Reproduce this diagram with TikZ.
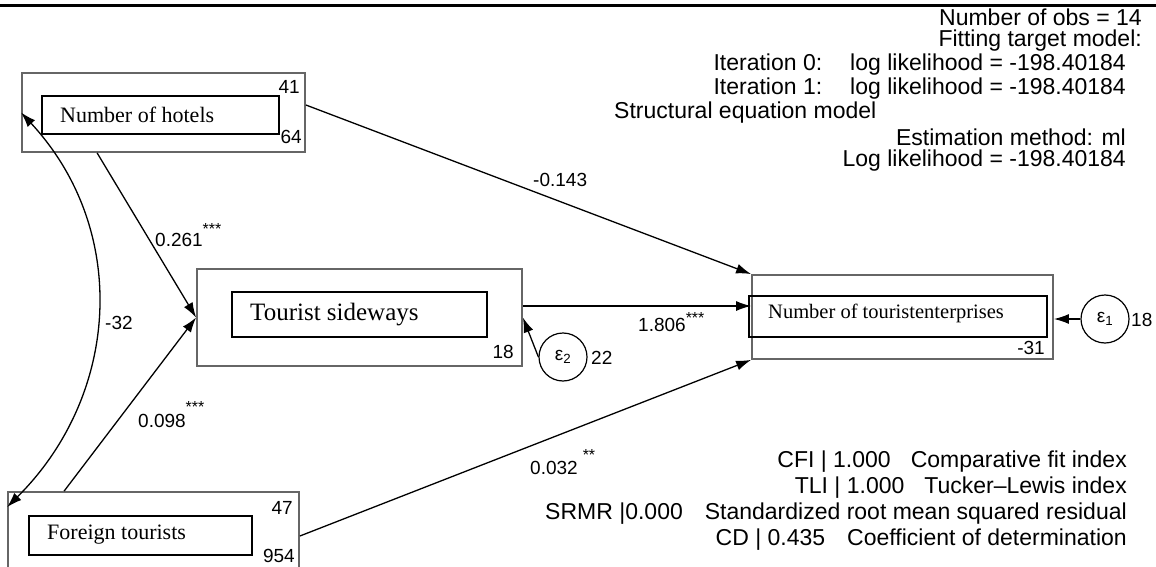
\documentclass[tikz,border=0pt]{standalone}
\usepackage{fontspec}
\setmainfont{Liberation Serif}
\setsansfont{Liberation Sans}
\usetikzlibrary{arrows.meta}
\newcommand{\starsup}[2]{\raisebox{#1}{\fontsize{16}{16}\selectfont #2}}
\begin{document}
\begin{tikzpicture}[x=1pt,y=-1pt,
  outerbox/.style={draw=black!60, line width=1.8pt, inner sep=0pt},
  innerbox/.style={draw=black, line width=1.3pt, inner sep=0pt},
  vname/.style={inner sep=0pt, anchor=west},
  lbl/.style={font=\sffamily\fontsize{19}{19}\selectfont, inner sep=0pt},
  stat/.style={font=\sffamily\fontsize{23}{23}\selectfont, inner sep=0pt},
  errc/.style={circle, draw=black, line width=1.2pt, minimum size=48pt, inner sep=0pt, font=\sffamily\fontsize{19}{19}\selectfont},
  pathline/.style={draw=black, line width=1.3pt, -{Latex[length=15pt,width=10pt]}}
]
\useasboundingbox (0,0) rectangle (1156,567);
\clip (0,0) rectangle (1156,567);
% top rule
\coordinate (ruleL) at (0,5.5);
\coordinate (ruleR) at (1156,5.5);
\draw[line width=3pt] (ruleL) -- (ruleR);

% boxes
\node[outerbox, minimum width=283pt, minimum height=79pt] (hotel) at (163.5,112.5) {};
\node[innerbox, minimum width=237pt, minimum height=38pt] (hotelin) at (160.5,115) {};
\node[vname, font=\rmfamily\fontsize{22}{22}\selectfont] (hoteltxt) at (60,115) {Number of hotels};
\node[lbl, anchor=east] (h41) at (300,87) {41};
\node[lbl, anchor=east] (h64) at (302,137) {64};

\node[outerbox, minimum width=325pt, minimum height=97pt] (side) at (359.5,317.5) {};
\node[innerbox, minimum width=255pt, minimum height=45pt] (sidein) at (359.5,314.5) {};
\node[vname, font=\rmfamily\fontsize{25}{25}\selectfont] (sidetxt) at (250,315) {Tourist sideways};
\node[lbl, anchor=east] (s18) at (514,352) {18};

\node[outerbox, minimum width=291pt, minimum height=80pt] (foreign) at (153.5,532) {};
\node[innerbox, minimum width=223pt, minimum height=39pt] (foreignin) at (140.5,535.5) {};
\node[vname, font=\rmfamily\fontsize{22}{22}\selectfont] (foreigntxt) at (47,535) {Foreign tourists};
\node[lbl, anchor=east] (f47) at (293,508) {47};
\node[lbl, anchor=east] (f954) at (295,556) {954};

\node[outerbox, minimum width=301pt, minimum height=84pt] (ent) at (902.5,317) {};
\node[innerbox, minimum width=298pt, minimum height=41pt] (entin) at (898,316.5) {};
\node[vname, font=\rmfamily\fontsize{20.5}{20.5}\selectfont] (enttxt) at (768,313) {Number of touristenterprises};
\node[lbl, anchor=east] (em31) at (1045,348) {-31};

% error terms
\node[errc] (e2) at (563,357) {ε\textsubscript{2}};
\node[lbl, anchor=west] (e2v) at (591,358) {22};
\node[errc] (e1) at (1105,319) {ε\textsubscript{1}};
\node[lbl, anchor=west] (e1v) at (1131,320) {18};

% paths
\draw[pathline] ([xshift=76pt]hotel.south west) -- (side.west);
\draw[pathline] ([xshift=57pt]foreign.north west) -- (side.west);
\draw[pathline] ([yshift=7.5pt]hotel.east) -- (ent.north west);
\draw[pathline] ([yshift=11.5pt]side.east) -- ([yshift=11pt]ent.west);
\draw[pathline] ([yshift=-4pt]foreign.east) -- (ent.south west);
\draw[pathline] (e2.west) -- (side.east);
\draw[pathline] (e1.west) -- (e1.west -| ent.east);
\draw[draw=black, line width=1.3pt, {Latex[length=15pt,width=10pt]}-{Latex[length=15pt,width=10pt]}]
  (hotel.west) .. controls (130,230) and (120,395) .. ([yshift=-16pt]foreign.north west);

% path labels
\node[lbl, anchor=west] (lcov) at (105,323) {-32};
\node[lbl, anchor=west] (l1) at (155,235) {0.261\starsup{12pt}{***}};
\node[lbl, anchor=west] (l2) at (138,415) {0.098\starsup{15pt}{***}};
\node[lbl, anchor=west] (l3) at (533,180) {-0.143};
\node[lbl, anchor=west] (l4) at (638,322) {1.806\starsup{8pt}{***}};
\node[lbl, anchor=west] (l5) at (530,462) {0.032\hspace{5pt}\starsup{14pt}{**}};

% statistics text
\node[stat, anchor=east] (t1) at (1142,17) {Number of obs = 14};
\node[stat, anchor=east] (t2) at (1142,41) {Fitting target model:};
\node[stat, anchor=east] (t3) at (1126,65) {Iteration 0:\hspace{28pt}log likelihood = -198.40184};
\node[stat, anchor=east] (t4) at (1126,89) {Iteration 1:\hspace{28pt}log likelihood = -198.40184};
\node[stat, anchor=west] (t5) at (614,113) {Structural equation model};
\node[stat, anchor=east] (t6) at (1126,137) {Estimation method: ml};
\node[stat, anchor=east] (t7) at (1126,161) {Log likelihood = -198.40184};

\node[stat, anchor=east] (b1) at (1127,462) {CFI | 1.000\hspace{20pt}Comparative fit index};
\node[stat, anchor=east] (b2) at (1127,488) {TLI | 1.000\hspace{20pt}Tucker–Lewis index};
\node[stat, anchor=east] (b3) at (1127,514) {SRMR |0.000\hspace{22pt}Standardized root mean squared residual};
\node[stat, anchor=east] (b4) at (1127,540) {CD | 0.435\hspace{22pt}Coefficient of determination};
\end{tikzpicture}
\end{document}
